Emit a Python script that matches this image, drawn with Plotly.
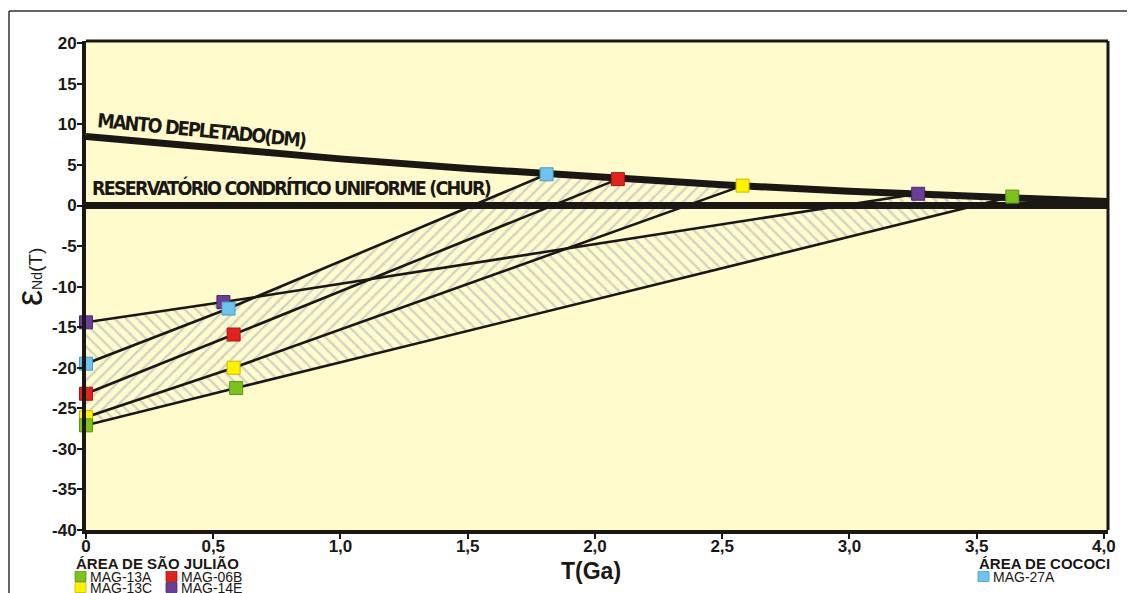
import plotly.graph_objects as go

# ---------------- data ----------------
x_ticks = [0, 0.5, 1.0, 1.5, 2.0, 2.5, 3.0, 3.5, 4.0]
x_ticklabels = ["0", "0,5", "1,0", "1,5", "2,0", "2,5", "3,0", "3,5", "4,0"]
y_ticks = [20, 15, 10, 5, 0, -5, -10, -15, -20, -25, -30, -35, -40]

# Depleted mantle curve
dm_t = [0, 0.5, 1.0, 1.5, 2.0, 2.5, 3.0, 3.5, 4.0, 4.02]
dm_e = [8.5, 7.06, 5.75, 4.56, 3.5, 2.56, 1.75, 1.06, 0.5, 0.48]
chur_t = [0, 4.02]
chur_e = [0, 0]

# samples: T values and eNd values
mag13a_t = [0, 0.59, 3.64]
mag13a_e = [-27.1, -22.5, 1.1]
mag06b_t = [0, 0.58, 2.09]
mag06b_e = [-23.2, -15.9, 3.25]
mag13c_t = [0, 0.58, 2.58]
mag13c_e = [-26.1, -20.0, 2.45]
mag14e_t = [0, 0.54, 3.27]
mag14e_e = [-14.4, -11.9, 1.45]
mag27a_t = [0, 0.56, 1.81]
mag27a_e = [-19.5, -12.7, 3.85]

samples = [
    ("MAG-14E", mag14e_t, mag14e_e, "#6b3f98", "#4d2a70"),
    ("MAG-27A", mag27a_t, mag27a_e, "#6fc4ef", "#4a9ac4"),
    ("MAG-06B", mag06b_t, mag06b_e, "#e0231d", "#a8180f"),
    ("MAG-13C", mag13c_t, mag13c_e, "#fff200", "#c9b800"),
    ("MAG-13A", mag13a_t, mag13a_e, "#7cc21f", "#5c9414"),
]

# ---------------- layout geometry (page pixels) ----------------
BODY = 8                      # default html body margin
W, H = 1135 - BODY, 593 - BODY
PL, PR, PT, PB = 86, 1108, 41, 530   # plot area on the page
L, R, T, B = PL - BODY, 1135 - PR, PT - BODY, 593 - PB
PW, PH = PR - PL, PB - PT


def px(xp):
    return (xp - PL) / PW


def py(yp):
    return (PB - yp) / PH


BG = "#fffbcc"
HATCH = "#a3a9c0"
INK = "#1a1714"
NARROW = "DejaVu Sans Condensed, Liberation Sans"

fig = go.Figure()

# hatched envelope: purple-green group ("\")
polyB_t = mag14e_t + [mag13a_t[2]] + mag13a_t[::-1][1:]
polyB_e = mag14e_e + [mag13a_e[2]] + mag13a_e[::-1][1:]
fig.add_trace(go.Scatter(
    x=polyB_t, y=polyB_e, fill="toself", mode="none", hoverinfo="skip",
    fillcolor="rgba(0,0,0,0)",
    fillpattern=dict(shape="\\", fgcolor=HATCH, bgcolor=BG, size=8, solidity=0.28),
    showlegend=False))

# hatched envelope: blue-yellow group ("/")
polyA_t = mag27a_t + [mag06b_t[2]] + mag13c_t[::-1]
polyA_e = mag27a_e + [mag06b_e[2]] + mag13c_e[::-1]
fig.add_trace(go.Scatter(
    x=polyA_t, y=polyA_e, fill="toself", mode="none", hoverinfo="skip",
    fillcolor="rgba(0,0,0,0)",
    fillpattern=dict(shape="/", fgcolor=HATCH, bgcolor=BG, size=8, solidity=0.28),
    showlegend=False))

# sample evolution lines
for name, tt, ee, col, edge in samples:
    fig.add_trace(go.Scatter(x=tt, y=ee, mode="lines",
                             line=dict(color=INK, width=2.6),
                             hoverinfo="skip", showlegend=False))

# DM and CHUR
fig.add_trace(go.Scatter(x=dm_t, y=dm_e, mode="lines",
                         line=dict(color=INK, width=7), showlegend=False))
fig.add_trace(go.Scatter(x=chur_t, y=chur_e, mode="lines",
                         line=dict(color=INK, width=7), showlegend=False))

# markers
for name, tt, ee, col, edge in samples:
    fig.add_trace(go.Scatter(x=tt, y=ee, mode="markers", name=name,
                             cliponaxis=False,
                             marker=dict(symbol="square", size=13, color=col,
                                         line=dict(color=edge, width=1)),
                             showlegend=False))

fig.update_layout(
    width=W, height=H,
    margin=dict(l=L, r=R, t=T, b=B, pad=0),
    paper_bgcolor="white", plot_bgcolor=BG,
    showlegend=False,
    font=dict(family="Liberation Sans", color=INK),
)

tickfont = dict(family="Liberation Sans", size=17, weight="bold", color=INK)
fig.update_xaxes(range=[0, 4.016], tickvals=x_ticks, ticktext=x_ticklabels,
                 showgrid=False, zeroline=False,
                 showline=True, linecolor=INK, linewidth=4, mirror=False,
                 ticks="outside", ticklen=5, tickwidth=1.5, tickcolor=INK,
                 ticklabelstandoff=-7, tickfont=tickfont)
fig.update_yaxes(range=[-40, 20.28], tickvals=y_ticks,
                 ticktext=[str(v) for v in y_ticks],
                 showgrid=False, zeroline=False,
                 showline=True, linecolor=INK, linewidth=4, mirror=False,
                 ticks="outside", ticklen=5, tickwidth=1.5, tickcolor=INK,
                 ticklabelstandoff=-3, tickfont=tickfont)

shapes = []
# top and right plot border
shapes.append(dict(type="line", xref="paper", yref="paper", x0=0, x1=1, y0=1, y1=1,
                   line=dict(color=INK, width=3)))
shapes.append(dict(type="line", xref="paper", yref="paper", x0=1, x1=1, y0=0, y1=1,
                   line=dict(color=INK, width=3)))
# outer frame (top and left)
shapes.append(dict(type="line", xref="paper", yref="paper", x0=px(9), x1=px(1140),
                   y0=py(11), y1=py(11), line=dict(color="#333333", width=1.5)))
shapes.append(dict(type="line", xref="paper", yref="paper", x0=px(9), x1=px(9),
                   y0=py(11), y1=py(600), line=dict(color="#333333", width=1.5)))

# legend squares
leg_items = [
    (75, 576.5, "#7cc21f", "#5c9414", "MAG-13A"),
    (166, 576.5, "#e0231d", "#a8180f", "MAG-06B"),
    (75, 587.5, "#fff200", "#c9b800", "MAG-13C"),
    (166, 587.5, "#6b3f98", "#4d2a70", "MAG-14E"),
    (978, 576.5, "#6fc4ef", "#4a9ac4", "MAG-27A"),
]
annotations = []
for x0, yc, col, edge, label in leg_items:
    shapes.append(dict(type="rect", xref="paper", yref="paper",
                       x0=px(x0), x1=px(x0 + 11), y0=py(yc + 5), y1=py(yc - 5),
                       fillcolor=col, line=dict(color=edge, width=0.8)))
    annotations.append(dict(xref="paper", yref="paper", x=px(x0 + 13), y=py(yc),
                            xanchor="left", yanchor="middle", showarrow=False,
                            text=label, font=dict(family="Liberation Sans", size=14,
                                                  color=INK)))

SQZ = "<span style='letter-spacing:-1.8px'>{}</span>"
annotations += [
    dict(xref="paper", yref="paper", x=px(74), y=py(563), xanchor="left",
         yanchor="middle", showarrow=False, text="ÁREA DE SÃO JULIÃO",
         font=dict(family="Liberation Sans", size=15, weight="bold", color=INK)),
    dict(xref="paper", yref="paper", x=px(977), y=py(563), xanchor="left",
         yanchor="middle", showarrow=False, text="ÁREA DE COCOCI",
         font=dict(family="Liberation Sans", size=15, weight="bold", color=INK)),
    dict(xref="paper", yref="paper", x=px(591), y=py(571), xanchor="center",
         yanchor="middle", showarrow=False, text="T(Ga)",
         font=dict(family="Liberation Sans", size=23, weight="bold", color=INK)),
    dict(xref="paper", yref="paper", x=px(29), y=py(277), xanchor="center",
         yanchor="middle", showarrow=False, textangle=-90,
         text="<span style='font-size:36px'>ε</span><span style='font-size:14px'>Nd</span><span style='font-size:19px'>(T)</span>",
         font=dict(family="Liberation Sans", size=19, color=INK)),
    dict(xref="paper", yref="paper", x=px(201), y=py(130), xanchor="center",
         yanchor="middle", showarrow=False, textangle=5.5,
         text=SQZ.format("MANTO DEPLETADO(DM)"),
         font=dict(family=NARROW, size=19.5, weight="bold", color=INK)),
    dict(xref="paper", yref="paper", x=px(90), y=py(188), xanchor="left",
         yanchor="middle", showarrow=False,
         text=SQZ.format("RESERVATÓRIO CONDRÍTICO UNIFORME (CHUR)"),
         font=dict(family=NARROW, size=19.5, weight="bold", color=INK)),
]

fig.update_layout(shapes=shapes, annotations=annotations)
fig.write_html("out.html")
